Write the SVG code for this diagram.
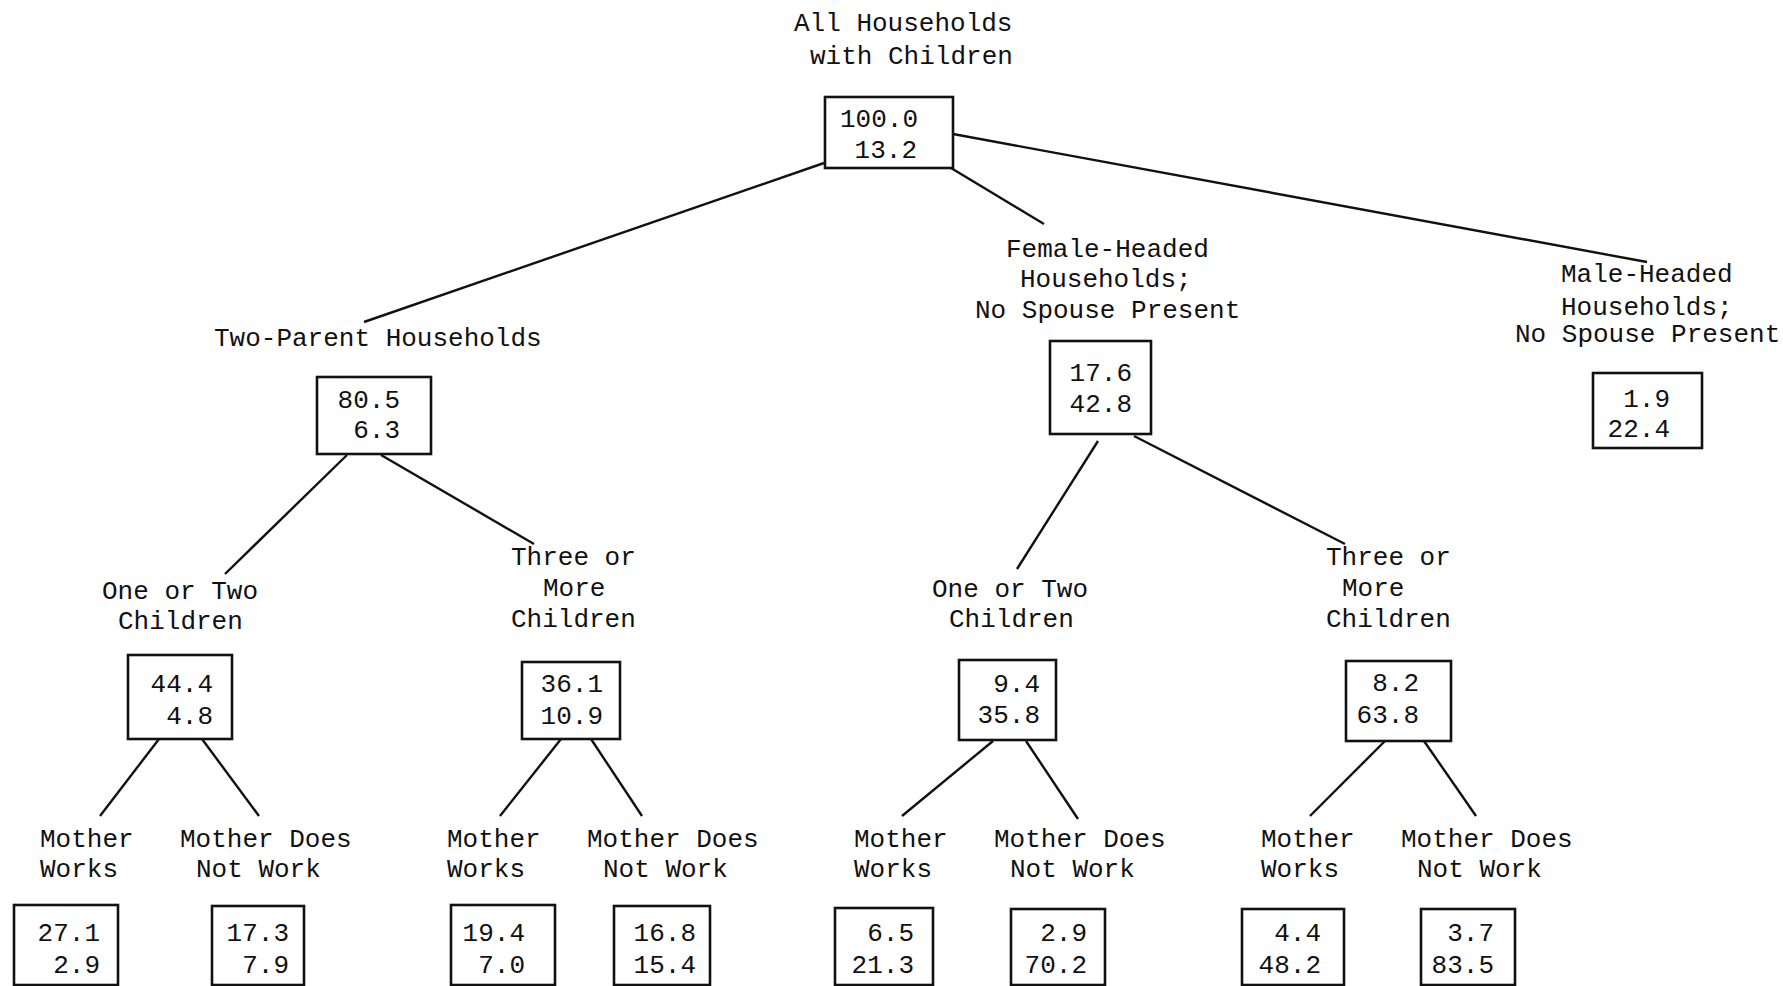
<svg xmlns="http://www.w3.org/2000/svg" width="1783" height="986" viewBox="0 0 1783 986">
<style>
text{font-family:"Liberation Mono","DejaVu Sans Mono",monospace;font-size:26px;fill:#111}
.n{text-anchor:end}
.box{fill:none;stroke:#111;stroke-width:2.6}
line{stroke:#111;stroke-width:2.4}
</style>
<rect width="1783" height="986" fill="#fff"/>
<g id="connectors">
<line x1="824" y1="163" x2="364" y2="322"/>
<line x1="951" y1="168" x2="1044" y2="224"/>
<line x1="953" y1="134" x2="1647" y2="262"/>
<line x1="347" y1="455" x2="225" y2="574"/>
<line x1="381" y1="455" x2="534" y2="544"/>
<line x1="1098" y1="441" x2="1017" y2="569"/>
<line x1="1134" y1="436" x2="1345" y2="544"/>
<line x1="159" y1="739" x2="100" y2="816"/>
<line x1="202" y1="739" x2="259" y2="816"/>
<line x1="561" y1="739" x2="500" y2="816"/>
<line x1="591" y1="739" x2="642" y2="816"/>
<line x1="993" y1="741" x2="902" y2="816"/>
<line x1="1026" y1="741" x2="1078" y2="819"/>
<line x1="1385" y1="741" x2="1310" y2="816"/>
<line x1="1424" y1="741" x2="1476" y2="816"/>
</g>
<g id="root">
<text x="794" y="31">All Households</text>
<text x="810" y="64">with Children</text>
<rect class="box" x="825" y="97" width="128" height="71"/>
<text class="n" x="918" y="127">100.0</text>
<text class="n" x="917" y="158">13.2</text>
</g>
<g id="two-parent">
<text x="214" y="346">Two-Parent Households</text>
<rect class="box" x="317" y="377" width="114" height="77"/>
<text class="n" x="400" y="408">80.5</text>
<text class="n" x="400" y="438">6.3</text>
</g>
<g id="female-headed">
<text x="1006" y="257">Female-Headed</text>
<text x="1020" y="287">Households;</text>
<text x="975" y="318">No Spouse Present</text>
<rect class="box" x="1050" y="341" width="101" height="93"/>
<text class="n" x="1132" y="381">17.6</text>
<text class="n" x="1132" y="412">42.8</text>
</g>
<g id="male-headed">
<text x="1561" y="282">Male-Headed</text>
<text x="1561" y="315">Households;</text>
<text x="1515" y="342">No Spouse Present</text>
<rect class="box" x="1593" y="373" width="109" height="75"/>
<text class="n" x="1670" y="407">1.9</text>
<text class="n" x="1670" y="437">22.4</text>
</g>
<g id="tp-one-two">
<text x="102" y="599">One or Two</text>
<text x="118" y="629">Children</text>
<rect class="box" x="128" y="655" width="104" height="84"/>
<text class="n" x="213" y="692">44.4</text>
<text class="n" x="213" y="724">4.8</text>
</g>
<g id="tp-three-more">
<text x="511" y="565">Three or</text>
<text x="543" y="596">More</text>
<text x="511" y="627">Children</text>
<rect class="box" x="522" y="662" width="98" height="77"/>
<text class="n" x="603" y="692">36.1</text>
<text class="n" x="603" y="724">10.9</text>
</g>
<g id="fh-one-two">
<text x="932" y="597">One or Two</text>
<text x="949" y="627">Children</text>
<rect class="box" x="959" y="660" width="97" height="80"/>
<text class="n" x="1040" y="692">9.4</text>
<text class="n" x="1040" y="723">35.8</text>
</g>
<g id="fh-three-more">
<text x="1326" y="565">Three or</text>
<text x="1342" y="596">More</text>
<text x="1326" y="627">Children</text>
<rect class="box" x="1346" y="661" width="105" height="80"/>
<text class="n" x="1419" y="691">8.2</text>
<text class="n" x="1419" y="723">63.8</text>
</g>
<g id="tp12-works">
<text x="40" y="847">Mother</text>
<text x="40" y="877">Works</text>
<rect class="box" x="14" y="905" width="104" height="80"/>
<text class="n" x="100" y="941">27.1</text>
<text class="n" x="100" y="973">2.9</text>
</g>
<g id="tp12-notwork">
<text x="180" y="847">Mother Does</text>
<text x="196" y="877">Not Work</text>
<rect class="box" x="212" y="906" width="92" height="79"/>
<text class="n" x="289" y="941">17.3</text>
<text class="n" x="289" y="973">7.9</text>
</g>
<g id="tp3-works">
<text x="447" y="847">Mother</text>
<text x="447" y="877">Works</text>
<rect class="box" x="451" y="905" width="104" height="80"/>
<text class="n" x="525" y="941">19.4</text>
<text class="n" x="525" y="973">7.0</text>
</g>
<g id="tp3-notwork">
<text x="587" y="847">Mother Does</text>
<text x="603" y="877">Not Work</text>
<rect class="box" x="614" y="906" width="96" height="79"/>
<text class="n" x="696" y="941">16.8</text>
<text class="n" x="696" y="973">15.4</text>
</g>
<g id="fh12-works">
<text x="854" y="847">Mother</text>
<text x="854" y="877">Works</text>
<rect class="box" x="835" y="908" width="98" height="77"/>
<text class="n" x="914" y="941">6.5</text>
<text class="n" x="914" y="973">21.3</text>
</g>
<g id="fh12-notwork">
<text x="994" y="847">Mother Does</text>
<text x="1010" y="877">Not Work</text>
<rect class="box" x="1011" y="909" width="94" height="76"/>
<text class="n" x="1087" y="941">2.9</text>
<text class="n" x="1087" y="973">70.2</text>
</g>
<g id="fh3-works">
<text x="1261" y="847">Mother</text>
<text x="1261" y="877">Works</text>
<rect class="box" x="1242" y="909" width="102" height="76"/>
<text class="n" x="1321" y="941">4.4</text>
<text class="n" x="1321" y="973">48.2</text>
</g>
<g id="fh3-notwork">
<text x="1401" y="847">Mother Does</text>
<text x="1417" y="877">Not Work</text>
<rect class="box" x="1421" y="909" width="94" height="76"/>
<text class="n" x="1494" y="941">3.7</text>
<text class="n" x="1494" y="973">83.5</text>
</g>
</svg>
